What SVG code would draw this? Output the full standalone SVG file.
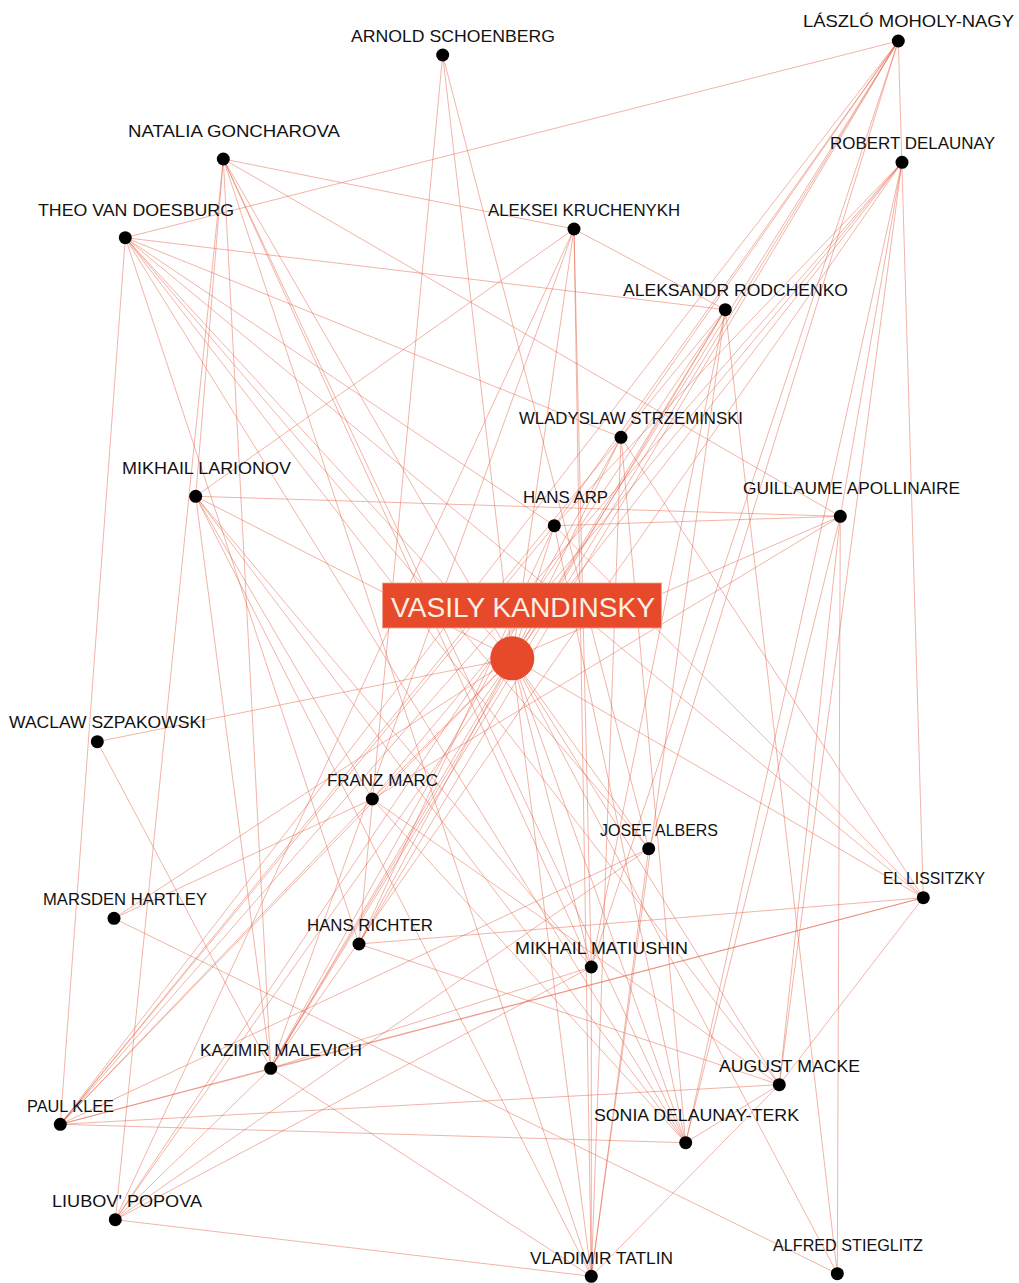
<svg xmlns="http://www.w3.org/2000/svg" width="1019" height="1283" viewBox="0 0 1019 1283">
<style>
.e line{stroke:#e2593b;stroke-opacity:0.5;stroke-width:0.9}
.n circle{fill:#000}
.lbl{font-family:"Liberation Sans",Arial,sans-serif;font-size:16.5px;fill:#111}
.hub{font-family:"Liberation Sans",Arial,sans-serif;font-size:27px;fill:#fcefe2}
</style>
<rect width="1019" height="1283" fill="#fff"/>
<g id="connectors" class="e">
<line x1="512.3" y1="658.3" x2="442.7" y2="55"/>
<line x1="512.3" y1="658.3" x2="898.3" y2="41"/>
<line x1="512.3" y1="658.3" x2="223.3" y2="159"/>
<line x1="512.3" y1="658.3" x2="902" y2="162.3"/>
<line x1="512.3" y1="658.3" x2="125.3" y2="237.7"/>
<line x1="512.3" y1="658.3" x2="574" y2="229"/>
<line x1="512.3" y1="658.3" x2="725.3" y2="309.7"/>
<line x1="512.3" y1="658.3" x2="621" y2="437.3"/>
<line x1="512.3" y1="658.3" x2="195.7" y2="496.3"/>
<line x1="512.3" y1="658.3" x2="554.3" y2="525.7"/>
<line x1="512.3" y1="658.3" x2="840.3" y2="516.3"/>
<line x1="512.3" y1="658.3" x2="97.3" y2="741.7"/>
<line x1="512.3" y1="658.3" x2="372.3" y2="799"/>
<line x1="512.3" y1="658.3" x2="648.7" y2="848.7"/>
<line x1="512.3" y1="658.3" x2="923.3" y2="897.7"/>
<line x1="512.3" y1="658.3" x2="114" y2="918.3"/>
<line x1="512.3" y1="658.3" x2="359" y2="944"/>
<line x1="512.3" y1="658.3" x2="591.3" y2="967"/>
<line x1="512.3" y1="658.3" x2="270.7" y2="1068.3"/>
<line x1="512.3" y1="658.3" x2="779.3" y2="1084.7"/>
<line x1="512.3" y1="658.3" x2="60.3" y2="1124.3"/>
<line x1="512.3" y1="658.3" x2="685.7" y2="1142.7"/>
<line x1="512.3" y1="658.3" x2="115.3" y2="1219.7"/>
<line x1="512.3" y1="658.3" x2="591.3" y2="1276.3"/>
<line x1="512.3" y1="658.3" x2="837.3" y2="1273.7"/>
<line x1="442.7" y1="55" x2="359" y2="944"/>
<line x1="442.7" y1="55" x2="648.7" y2="848.7"/>
<line x1="898.3" y1="41" x2="125.3" y2="237.7"/>
<line x1="898.3" y1="41" x2="923.3" y2="897.7"/>
<line x1="898.3" y1="41" x2="60.3" y2="1124.3"/>
<line x1="898.3" y1="41" x2="648.7" y2="848.7"/>
<line x1="898.3" y1="41" x2="621" y2="437.3"/>
<line x1="898.3" y1="41" x2="359" y2="944"/>
<line x1="898.3" y1="41" x2="270.7" y2="1068.3"/>
<line x1="898.3" y1="41" x2="554.3" y2="525.7"/>
<line x1="898.3" y1="41" x2="591.3" y2="967"/>
<line x1="902" y1="162.3" x2="372.3" y2="799"/>
<line x1="902" y1="162.3" x2="60.3" y2="1124.3"/>
<line x1="902" y1="162.3" x2="554.3" y2="525.7"/>
<line x1="902" y1="162.3" x2="270.7" y2="1068.3"/>
<line x1="902" y1="162.3" x2="685.7" y2="1142.7"/>
<line x1="902" y1="162.3" x2="840.3" y2="516.3"/>
<line x1="902" y1="162.3" x2="779.3" y2="1084.7"/>
<line x1="223.3" y1="159" x2="195.7" y2="496.3"/>
<line x1="223.3" y1="159" x2="115.3" y2="1219.7"/>
<line x1="223.3" y1="159" x2="270.7" y2="1068.3"/>
<line x1="223.3" y1="159" x2="591.3" y2="1276.3"/>
<line x1="223.3" y1="159" x2="591.3" y2="967"/>
<line x1="223.3" y1="159" x2="685.7" y2="1142.7"/>
<line x1="223.3" y1="159" x2="574" y2="229"/>
<line x1="223.3" y1="159" x2="840.3" y2="516.3"/>
<line x1="125.3" y1="237.7" x2="60.3" y2="1124.3"/>
<line x1="125.3" y1="237.7" x2="359" y2="944"/>
<line x1="125.3" y1="237.7" x2="685.7" y2="1142.7"/>
<line x1="125.3" y1="237.7" x2="779.3" y2="1084.7"/>
<line x1="125.3" y1="237.7" x2="648.7" y2="848.7"/>
<line x1="125.3" y1="237.7" x2="923.3" y2="897.7"/>
<line x1="125.3" y1="237.7" x2="725.3" y2="309.7"/>
<line x1="125.3" y1="237.7" x2="621" y2="437.3"/>
<line x1="125.3" y1="237.7" x2="554.3" y2="525.7"/>
<line x1="574" y1="229" x2="195.7" y2="496.3"/>
<line x1="574" y1="229" x2="725.3" y2="309.7"/>
<line x1="574" y1="229" x2="591.3" y2="1276.3"/>
<line x1="574" y1="229" x2="591.3" y2="967"/>
<line x1="574" y1="229" x2="270.7" y2="1068.3"/>
<line x1="574" y1="229" x2="115.3" y2="1219.7"/>
<line x1="725.3" y1="309.7" x2="270.7" y2="1068.3"/>
<line x1="725.3" y1="309.7" x2="115.3" y2="1219.7"/>
<line x1="725.3" y1="309.7" x2="621" y2="437.3"/>
<line x1="725.3" y1="309.7" x2="591.3" y2="1276.3"/>
<line x1="725.3" y1="309.7" x2="591.3" y2="967"/>
<line x1="725.3" y1="309.7" x2="837.3" y2="1273.7"/>
<line x1="621" y1="437.3" x2="270.7" y2="1068.3"/>
<line x1="621" y1="437.3" x2="923.3" y2="897.7"/>
<line x1="621" y1="437.3" x2="591.3" y2="1276.3"/>
<line x1="621" y1="437.3" x2="60.3" y2="1124.3"/>
<line x1="621" y1="437.3" x2="685.7" y2="1142.7"/>
<line x1="554.3" y1="525.7" x2="840.3" y2="516.3"/>
<line x1="554.3" y1="525.7" x2="60.3" y2="1124.3"/>
<line x1="554.3" y1="525.7" x2="359" y2="944"/>
<line x1="554.3" y1="525.7" x2="923.3" y2="897.7"/>
<line x1="554.3" y1="525.7" x2="685.7" y2="1142.7"/>
<line x1="840.3" y1="516.3" x2="195.7" y2="496.3"/>
<line x1="840.3" y1="516.3" x2="837.3" y2="1273.7"/>
<line x1="840.3" y1="516.3" x2="779.3" y2="1084.7"/>
<line x1="840.3" y1="516.3" x2="685.7" y2="1142.7"/>
<line x1="840.3" y1="516.3" x2="372.3" y2="799"/>
<line x1="372.3" y1="799" x2="114" y2="918.3"/>
<line x1="372.3" y1="799" x2="60.3" y2="1124.3"/>
<line x1="372.3" y1="799" x2="779.3" y2="1084.7"/>
<line x1="372.3" y1="799" x2="685.7" y2="1142.7"/>
<line x1="372.3" y1="799" x2="195.7" y2="496.3"/>
<line x1="779.3" y1="1084.7" x2="60.3" y2="1124.3"/>
<line x1="779.3" y1="1084.7" x2="685.7" y2="1142.7"/>
<line x1="779.3" y1="1084.7" x2="923.3" y2="897.7"/>
<line x1="779.3" y1="1084.7" x2="591.3" y2="1276.3"/>
<line x1="779.3" y1="1084.7" x2="359" y2="944"/>
<line x1="648.7" y1="848.7" x2="60.3" y2="1124.3"/>
<line x1="648.7" y1="848.7" x2="591.3" y2="1276.3"/>
<line x1="648.7" y1="848.7" x2="115.3" y2="1219.7"/>
<line x1="923.3" y1="897.7" x2="270.7" y2="1068.3"/>
<line x1="923.3" y1="897.7" x2="60.3" y2="1124.3"/>
<line x1="923.3" y1="897.7" x2="359" y2="944"/>
<line x1="591.3" y1="967" x2="270.7" y2="1068.3"/>
<line x1="591.3" y1="967" x2="591.3" y2="1276.3"/>
<line x1="591.3" y1="967" x2="115.3" y2="1219.7"/>
<line x1="270.7" y1="1068.3" x2="195.7" y2="496.3"/>
<line x1="270.7" y1="1068.3" x2="97.3" y2="741.7"/>
<line x1="270.7" y1="1068.3" x2="591.3" y2="1276.3"/>
<line x1="270.7" y1="1068.3" x2="115.3" y2="1219.7"/>
<line x1="270.7" y1="1068.3" x2="60.3" y2="1124.3"/>
<line x1="115.3" y1="1219.7" x2="591.3" y2="1276.3"/>
<line x1="591.3" y1="1276.3" x2="195.7" y2="496.3"/>
<line x1="60.3" y1="1124.3" x2="685.7" y2="1142.7"/>
<line x1="195.7" y1="496.3" x2="685.7" y2="1142.7"/>
<line x1="195.7" y1="496.3" x2="591.3" y2="967"/>
<line x1="114" y1="918.3" x2="837.3" y2="1273.7"/>
</g>
<g id="node-schoenberg" class="n"><circle cx="442.7" cy="55" r="6.5"/><text class="lbl" x="351" y="42" textLength="204" lengthAdjust="spacingAndGlyphs">ARNOLD SCHOENBERG</text></g>
<g id="node-moholy-nagy" class="n"><circle cx="898.3" cy="41" r="6.5"/><text class="lbl" x="803" y="27" textLength="211" lengthAdjust="spacingAndGlyphs">LÁSZLÓ MOHOLY-NAGY</text></g>
<g id="node-goncharova" class="n"><circle cx="223.3" cy="159" r="6.5"/><text class="lbl" x="128" y="137" textLength="212" lengthAdjust="spacingAndGlyphs">NATALIA GONCHAROVA</text></g>
<g id="node-delaunay" class="n"><circle cx="902" cy="162.3" r="6.5"/><text class="lbl" x="830" y="149" textLength="165" lengthAdjust="spacingAndGlyphs">ROBERT DELAUNAY</text></g>
<g id="node-doesburg" class="n"><circle cx="125.3" cy="237.7" r="6.5"/><text class="lbl" x="38" y="216" textLength="196" lengthAdjust="spacingAndGlyphs">THEO VAN DOESBURG</text></g>
<g id="node-kruchenykh" class="n"><circle cx="574" cy="229" r="6.5"/><text class="lbl" x="488" y="216" textLength="192" lengthAdjust="spacingAndGlyphs">ALEKSEI KRUCHENYKH</text></g>
<g id="node-rodchenko" class="n"><circle cx="725.3" cy="309.7" r="6.5"/><text class="lbl" x="623" y="296" textLength="225" lengthAdjust="spacingAndGlyphs">ALEKSANDR RODCHENKO</text></g>
<g id="node-strzeminski" class="n"><circle cx="621" cy="437.3" r="6.5"/><text class="lbl" x="519" y="424" textLength="224" lengthAdjust="spacingAndGlyphs">WLADYSLAW STRZEMINSKI</text></g>
<g id="node-larionov" class="n"><circle cx="195.7" cy="496.3" r="6.5"/><text class="lbl" x="122" y="474" textLength="169" lengthAdjust="spacingAndGlyphs">MIKHAIL LARIONOV</text></g>
<g id="node-arp" class="n"><circle cx="554.3" cy="525.7" r="6.5"/><text class="lbl" x="523" y="503" textLength="85" lengthAdjust="spacingAndGlyphs">HANS ARP</text></g>
<g id="node-apollinaire" class="n"><circle cx="840.3" cy="516.3" r="6.5"/><text class="lbl" x="743" y="494" textLength="217" lengthAdjust="spacingAndGlyphs">GUILLAUME APOLLINAIRE</text></g>
<g id="node-szpakowski" class="n"><circle cx="97.3" cy="741.7" r="6.5"/><text class="lbl" x="9" y="728" textLength="197" lengthAdjust="spacingAndGlyphs">WACLAW SZPAKOWSKI</text></g>
<g id="node-marc" class="n"><circle cx="372.3" cy="799" r="6.5"/><text class="lbl" x="327" y="786" textLength="111" lengthAdjust="spacingAndGlyphs">FRANZ MARC</text></g>
<g id="node-albers" class="n"><circle cx="648.7" cy="848.7" r="6.5"/><text class="lbl" x="600" y="836" textLength="118" lengthAdjust="spacingAndGlyphs">JOSEF ALBERS</text></g>
<g id="node-lissitzky" class="n"><circle cx="923.3" cy="897.7" r="6.5"/><text class="lbl" x="883" y="884" textLength="102" lengthAdjust="spacingAndGlyphs">EL LISSITZKY</text></g>
<g id="node-hartley" class="n"><circle cx="114" cy="918.3" r="6.5"/><text class="lbl" x="43" y="905" textLength="164" lengthAdjust="spacingAndGlyphs">MARSDEN HARTLEY</text></g>
<g id="node-richter" class="n"><circle cx="359" cy="944" r="6.5"/><text class="lbl" x="307" y="931" textLength="126" lengthAdjust="spacingAndGlyphs">HANS RICHTER</text></g>
<g id="node-matiushin" class="n"><circle cx="591.3" cy="967" r="6.5"/><text class="lbl" x="515" y="954" textLength="173" lengthAdjust="spacingAndGlyphs">MIKHAIL MATIUSHIN</text></g>
<g id="node-malevich" class="n"><circle cx="270.7" cy="1068.3" r="6.5"/><text class="lbl" x="200" y="1056" textLength="162" lengthAdjust="spacingAndGlyphs">KAZIMIR MALEVICH</text></g>
<g id="node-macke" class="n"><circle cx="779.3" cy="1084.7" r="6.5"/><text class="lbl" x="719" y="1072" textLength="141" lengthAdjust="spacingAndGlyphs">AUGUST MACKE</text></g>
<g id="node-klee" class="n"><circle cx="60.3" cy="1124.3" r="6.5"/><text class="lbl" x="27" y="1112" textLength="87" lengthAdjust="spacingAndGlyphs">PAUL KLEE</text></g>
<g id="node-sonia" class="n"><circle cx="685.7" cy="1142.7" r="6.5"/><text class="lbl" x="594" y="1121" textLength="205" lengthAdjust="spacingAndGlyphs">SONIA DELAUNAY-TERK</text></g>
<g id="node-popova" class="n"><circle cx="115.3" cy="1219.7" r="6.5"/><text class="lbl" x="52" y="1207" textLength="150" lengthAdjust="spacingAndGlyphs">LIUBOV' POPOVA</text></g>
<g id="node-tatlin" class="n"><circle cx="591.3" cy="1276.3" r="6.5"/><text class="lbl" x="530" y="1264" textLength="143" lengthAdjust="spacingAndGlyphs">VLADIMIR TATLIN</text></g>
<g id="node-stieglitz" class="n"><circle cx="837.3" cy="1273.7" r="6.5"/><text class="lbl" x="773" y="1251" textLength="150" lengthAdjust="spacingAndGlyphs">ALFRED STIEGLITZ</text></g>
<g id="node-kandinsky">
<circle cx="512.3" cy="658.3" r="22" fill="#e64a2a"/>
<rect x="382.5" y="583" width="279" height="45" fill="#e64a2a" stroke="#f2a48e" stroke-width="0.8"/>
<text class="hub" x="391" y="617" textLength="264" lengthAdjust="spacingAndGlyphs">VASILY KANDINSKY</text>
</g>
</svg>
